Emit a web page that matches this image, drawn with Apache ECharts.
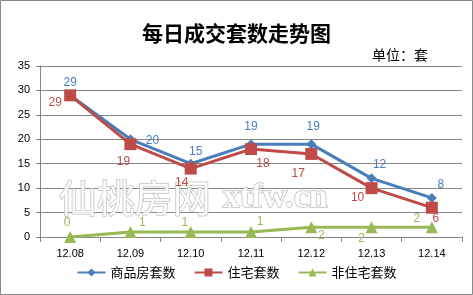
<!DOCTYPE html>
<html><head><meta charset="utf-8">
<script src="https://cdn.jsdelivr.net/npm/echarts@6/dist/echarts.min.js"></script>
<style>html,body{margin:0;padding:0;background:#fff}#c{width:473px;height:295px}</style>
</head><body><div id="c"></div>
<script>
var categories = ['12.08','12.09','12.10','12.11','12.12','12.13','12.14'];
var seriesNames = ['商品房套数','住宅套数','非住宅套数'];
var commercial = [29,20,15,19,19,12,8];
var residential = [29,19,14,18,17,10,6];
var nonResidential = [0,1,1,1,2,2,2];
var yTicks = [0,5,10,15,20,25,30,35];

// label offsets (pixels relative to each point)
var offBlue = [[0,-13],[22,1],[5,-12],[0,-17],[2,-17],[8,-14],[9,-13]];
var offRed = [[-15,7],[-7,18],[-9,14],[12,15],[-13,20],[-14,10],[4,11]];
var offGreen = [[-3,-14],[12,-9],[-6,-9],[9,-10],[10,8],[-10,11],[-15,-9]];

function mk(vals, offs, color){
  return vals.map(function(v,i){
    return {value:v,label:{show:true,position:'inside',offset:offs[i],color:color,fontSize:12,fontFamily:'Liberation Sans, Arial, sans-serif'}};
  });
}
var blue='#4a7ebb', red='#be4b48', green='#98b954';
var chart = echarts.init(document.getElementById('c'));
chart.setOption({
  animation:false,
  backgroundColor:'#fff',
  title:[{text:'每日成交套数走势图',left:'center',top:18,textStyle:{fontSize:21,fontWeight:'bold',color:'#000',fontFamily:'Noto Sans CJK SC'}},
         {text:'单位：套',left:367,top:43,textStyle:{fontSize:14,fontWeight:'normal',color:'#000',fontFamily:'Noto Sans CJK SC'}}],
  grid:{left:40,right:11,top:66,bottom:58},
  legend:{bottom:11,left:'center',itemWidth:28,itemHeight:10,itemGap:18,
    textStyle:{fontSize:13,color:'#000',fontFamily:'Noto Sans CJK SC'},data:seriesNames},
  xAxis:{type:'category',data:categories,boundaryGap:true,
    axisLine:{lineStyle:{color:'#868686'}},
    axisTick:{show:true,length:5,lineStyle:{color:'#868686'}},
    axisLabel:{fontSize:11,color:'#000',margin:11,fontFamily:'Liberation Sans, Arial, sans-serif'}},
  yAxis:{type:'value',min:0,max:35,interval:5,
    axisLine:{show:true,lineStyle:{color:'#868686'}},
    axisTick:{show:true,length:4,lineStyle:{color:'#868686'}},
    splitLine:{lineStyle:{color:'#868686'}},
    axisLabel:{fontSize:11,color:'#000',margin:10,fontFamily:'Liberation Sans, Arial, sans-serif',
      formatter:function(v){return yTicks.indexOf(v)>=0?String(v):'';}}},
  graphic:[
    {type:'rect',shape:{x:0.5,y:0.5,width:472,height:294},style:{fill:'none',stroke:'#8a8a8a',lineWidth:1},z:100},
    {type:'text',left:58,top:178,z:1,style:{text:'仙桃房网',fontSize:38,fontFamily:'Noto Sans CJK SC',fill:'rgba(255,255,255,0.85)',stroke:'#c4c4c4',lineWidth:1.5}},
    {type:'text',left:222,top:180,z:1,style:{text:'xtfw.cn',fontSize:34,fontWeight:'bold',fontFamily:'Liberation Serif',fill:'rgba(255,255,255,0.85)',stroke:'#c4c4c4',lineWidth:1.5}}
  ],
  series:[
    {name:seriesNames[0],type:'line',data:mk(commercial,offBlue,blue),symbol:'diamond',symbolSize:10,
      itemStyle:{color:blue},lineStyle:{color:blue,width:3},z:3},
    {name:seriesNames[1],type:'line',data:mk(residential,offRed,red),symbol:'rect',symbolSize:12,
      itemStyle:{color:red},lineStyle:{color:red,width:3},z:4},
    {name:seriesNames[2],type:'line',data:mk(nonResidential,offGreen,green),symbol:'triangle',symbolSize:12,
      itemStyle:{color:green},lineStyle:{color:green,width:3},z:5}
  ]
});
</script></body></html>
